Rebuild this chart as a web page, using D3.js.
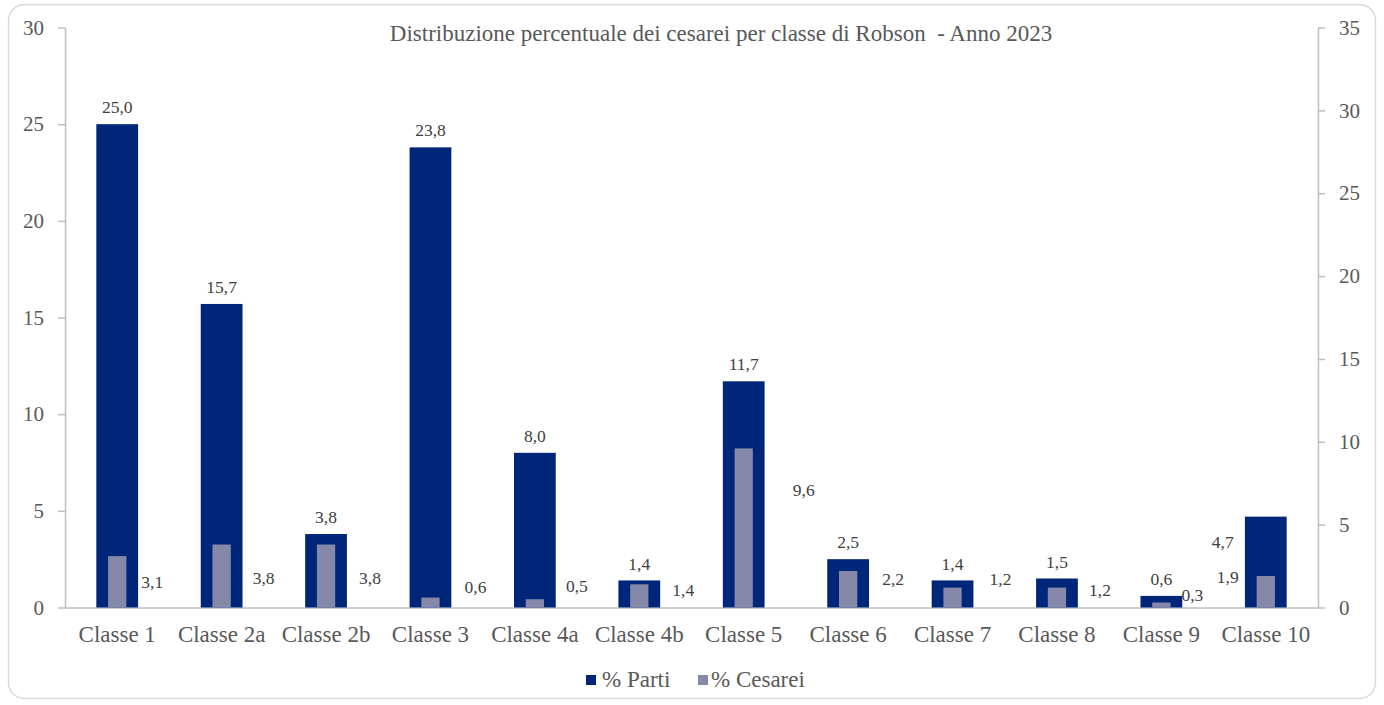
<!DOCTYPE html>
<html>
<head>
<meta charset="utf-8">
<script src="https://cdn.jsdelivr.net/npm/d3@7"></script>
<style>
  html, body { margin: 0; padding: 0; background: #ffffff; }
  svg { display: block; }
  text { font-family: "Liberation Serif", "Times New Roman", serif; }
</style>
</head>
<body>
<svg id="chart" width="1384" height="705"></svg>
<script>
// Robson classes
const categories = ["Classe 1", "Classe 2a", "Classe 2b", "Classe 3", "Classe 4a", "Classe 4b",
                    "Classe 5", "Classe 6", "Classe 7", "Classe 8", "Classe 9", "Classe 10"];
// share of births per class (left axis)
const partiValues = [25.0, 15.7, 3.8, 23.8, 8.0, 1.4, 11.7, 2.5, 1.4, 1.5, 0.6, 4.7];
// share of caesareans per class (right axis)
const cesareiValues = [3.1, 3.8, 3.8, 0.6, 0.5, 1.4, 9.6, 2.2, 1.2, 1.2, 0.3, 1.9];
const leftTicks = [0, 5, 10, 15, 20, 25, 30];
const rightTicks = [0, 5, 10, 15, 20, 25, 30, 35];
const seriesNames = ["% Parti", "% Cesarei"];
const title = "Distribuzione percentuale dei cesarei per classe di Robson  - Anno 2023";

// hand-placed label nudges (px): [dx from class centre, dy from bar top]
const partiLabelNudge = [[0,-17],[0,-17],[0,-17],[0,-17],[0,-17],[0,-17],
                         [0,-17],[0,-17],[0,-17],[0,-17],[0,-17],[-43,25]];
// cesarei labels: [dx from class centre, dy above the baseline]
const cesLabelNudge = [[35,-26],[42,-30],[44,-30],[45,-21],[42,-21.5],[44,-17.5],
                       [60,-117.5],[45,-28.5],[48,-28.5],[43,-17.5],[31,-12.5],[-38,-30.5]];

const colDark = "#00267A";
const colLight = "#8588A9";
const textCol = "#595959";
const labelCol = "#404040";
const axisCol = "#BFBFBF";
const serif = "'Liberation Serif', 'Times New Roman', serif";

const fmt = v => d3.format(".1f")(v).replace(".", ",");

const svg = d3.select("#chart");

// chart frame
svg.append("rect")
  .attr("x", 8.5).attr("y", 4.5).attr("width", 1367).attr("height", 694)
  .attr("rx", 16).attr("ry", 16)
  .attr("fill", "#ffffff").attr("stroke", "#D9D9D9").attr("stroke-width", 1.5);

const plot = { left: 65, right: 1318, top: 27.5, bottom: 607.5 };

const x = d3.scaleBand().domain(categories).range([plot.left, plot.right]);
const yL = d3.scaleLinear().domain([0, 30]).range([plot.bottom, plot.top]);
const yR = d3.scaleLinear().domain([0, 35]).range([plot.bottom, plot.top]);

const step = x.bandwidth();
const wDark = step * 0.40;
const wLight = step * 0.175;

// axes
const gL = svg.append("g").attr("transform", `translate(${plot.left},0)`)
  .call(d3.axisLeft(yL).tickValues(leftTicks).tickSize(7).tickSizeOuter(0).tickPadding(14).tickFormat(d3.format("d")));
const gR = svg.append("g").attr("transform", `translate(${plot.right},0)`)
  .call(d3.axisRight(yR).tickValues(rightTicks).tickSize(7).tickSizeOuter(0).tickPadding(14).tickFormat(d3.format("d")));
[gL, gR].forEach(g => {
  g.select(".domain").attr("stroke", axisCol).attr("stroke-width", 1.5);
  g.selectAll(".tick line").attr("stroke", axisCol).attr("stroke-width", 1.5);
  g.selectAll(".tick text").attr("fill", textCol).style("font-size", "21px")
    .style("font-family", serif);
});

const gX = svg.append("g").attr("transform", `translate(0,${plot.bottom})`)
  .call(d3.axisBottom(x).tickSize(0).tickSizeOuter(0).tickPadding(18));
gX.select(".domain").attr("stroke", axisCol).attr("stroke-width", 1.5);
gX.selectAll(".tick text").attr("fill", textCol).style("font-size", "23px")
  .style("font-family", serif);

// bars: % Parti (left axis)
svg.append("g").selectAll("rect").data(partiValues).join("rect")
  .attr("x", (d, i) => x(categories[i]) + step / 2 - wDark / 2)
  .attr("y", d => yL(d))
  .attr("width", wDark)
  .attr("height", d => yL(0) - yL(d))
  .attr("fill", colDark);

// bars: % Cesarei (right axis), drawn on top
svg.append("g").selectAll("rect").data(cesareiValues).join("rect")
  .attr("x", (d, i) => x(categories[i]) + step / 2 - wLight / 2)
  .attr("y", d => yR(d))
  .attr("width", wLight)
  .attr("height", d => yR(0) - yR(d))
  .attr("fill", colLight);

// value labels
svg.append("g").selectAll("text").data(partiValues).join("text")
  .attr("x", (d, i) => x(categories[i]) + step / 2 + partiLabelNudge[i][0])
  .attr("y", (d, i) => yL(d) + partiLabelNudge[i][1])
  .attr("dy", "0.35em")
  .attr("text-anchor", "middle")
  .attr("fill", labelCol)
  .style("font-size", "17.5px")
  .style("font-family", serif)
  .text(d => fmt(d));

svg.append("g").selectAll("text").data(cesareiValues).join("text")
  .attr("x", (d, i) => x(categories[i]) + step / 2 + cesLabelNudge[i][0])
  .attr("y", (d, i) => yR(0) + cesLabelNudge[i][1])
  .attr("dy", "0.35em")
  .attr("text-anchor", "middle")
  .attr("fill", labelCol)
  .style("font-size", "17.5px")
  .style("font-family", serif)
  .text(d => fmt(d));

// title
svg.append("text")
  .attr("x", 721).attr("y", 41)
  .attr("text-anchor", "middle")
  .attr("fill", textCol)
  .style("font-size", "23px")
  .style("font-family", serif)
  .style("white-space", "pre")
  .attr("xml:space", "preserve")
  .text(title);

// legend
const legend = svg.append("g");
const legendItems = [
  { name: seriesNames[0], color: colDark, x: 586, tx: 602 },
  { name: seriesNames[1], color: colLight, x: 698, tx: 711 }
];
legendItems.forEach(it => {
  legend.append("rect").attr("x", it.x).attr("y", 675).attr("width", 10).attr("height", 10).attr("fill", it.color);
  legend.append("text").attr("x", it.tx).attr("y", 687)
    .attr("fill", textCol).style("font-size", "23px").style("font-family", serif).text(it.name);
});
</script>
</body>
</html>
